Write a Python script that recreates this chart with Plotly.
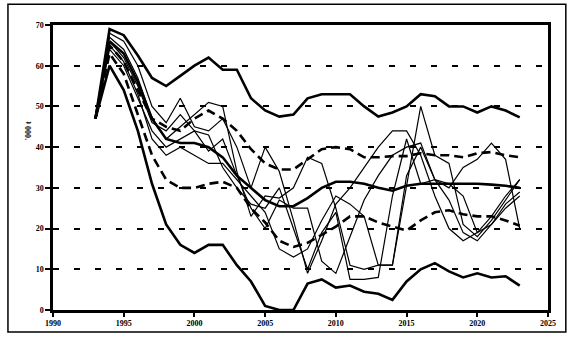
import plotly.graph_objects as go

years = list(range(1993, 2024))

top = [47, 69, 67.5, 62.5, 57, 55, 57.5, 60, 62, 59, 59, 52, 49, 47.5, 48, 52, 53, 53, 53, 50, 47.5, 48.5, 50, 53, 52.5, 50, 50, 48.5, 50, 49, 47.3]
bottom = [47, 60, 54, 44, 31, 21, 16, 14, 16, 16, 11, 7, 1, 0, 0, 6.5, 7.5, 5.5, 6, 4.5, 4, 2.5, 7, 10, 11.5, 9.5, 8, 9, 8, 8.3, 6]
mid_thick = [47, 66, 63, 56, 47, 42, 41, 41, 40, 37.5, 33, 30, 27, 25.5, 25.5, 27.5, 30, 31.5, 31.5, 31, 30, 29.3, 30.5, 31, 31, 31, 31, 31, 30.8, 30.5, 30]
dash_up = [47, 65, 61, 54, 47, 45, 44, 47, 49, 47, 44, 39.5, 36, 34.5, 34.5, 37, 39.5, 40, 39.5, 37.5, 37.5, 37.8, 37.8, 38.5, 38, 38, 37.5, 38.5, 38.8, 38, 37.5]
dash_low = [47, 63, 58, 48, 38, 32, 30, 30, 31, 31.5, 30, 25, 21.5, 17, 15.5, 16.5, 18.5, 20.5, 23, 23, 21.5, 20.5, 19.5, 22, 24, 24.5, 23.5, 23, 23, 22, 20.7]

thin_a = [47, 68, 66, 60, 50, 46, 52, 45, 44, 47, 40, 30, 40, 34, 22, 9, 17, 26, 30, 35, 40, 44, 44, 38, 28, 20, 17, 19, 23, 28, 32]
thin_b = [47, 67, 64, 57, 47, 42, 45, 48, 51, 50, 34, 23, 28, 27.5, 30, 37.5, 36, 25, 11, 10, 11, 11, 30, 50, 38, 36, 21, 18, 22, 27, 32]
thin_c = [47, 66, 62, 55, 46, 44, 48, 44, 39, 42, 33, 25, 20, 27, 25, 25, 12, 9, 18, 27, 33, 38, 40, 41, 32, 30, 35, 37, 41, 37, 20]
thin_d = [47, 65, 61, 53, 42, 38, 40, 38, 36, 36, 32, 28, 24, 15, 13, 15, 22, 28, 26, 23, 11, 11, 33, 40, 32, 27, 19, 17, 21, 26, 29]
thin_e = [47, 64, 60, 52, 44, 40, 42, 44, 43, 35, 30, 26, 25, 30, 20, 10, 19, 24, 7.5, 7.5, 8, 28, 42, 31, 32, 31, 28, 19, 21, 25, 28]

x_ticks = [1990, 1995, 2000, 2005, 2010, 2015, 2020, 2025]
y_ticks = [0, 10, 20, 30, 40, 50, 60, 70]
y_title = "'000 t"

series = [
    (thin_a, 1.2, "solid"), (thin_b, 1.2, "solid"), (thin_c, 1.2, "solid"),
    (thin_d, 1.2, "solid"), (thin_e, 1.2, "solid"),
    (dash_up, 2.6, "9px,5px"), (dash_low, 2.6, "9px,5px"),
    (mid_thick, 2.6, "solid"), (top, 2.6, "solid"), (bottom, 2.6, "solid"),
]

fig = go.Figure()
for vals, w, d in series:
    fig.add_trace(go.Scatter(x=years, y=vals, mode="lines",
                             line=dict(color="black", width=w, dash=d),
                             showlegend=False, hoverinfo="skip"))

tickfont = dict(family="Liberation Serif", size=8, color="black", weight="bold")

fig.update_layout(
    width=568, height=340,
    margin=dict(l=53, r=20, t=25, b=28),
    paper_bgcolor="white", plot_bgcolor="white",
    showlegend=False,
    xaxis=dict(range=[1990, 2025], tickvals=x_ticks, ticktext=[str(t) for t in x_ticks],
               showgrid=False, zeroline=False, showline=True, linecolor="black", linewidth=2.5,
               mirror=True, ticks="outside", ticklen=4, tickwidth=1.5, tickcolor="black",
               tickfont=tickfont),
    yaxis=dict(range=[0, 70], tickvals=y_ticks, showgrid=True, gridcolor="black",
               gridwidth=1.5, griddash="6px,15px", zeroline=False, showline=True,
               linecolor="black", linewidth=2.5, mirror=True, ticks="outside", ticklen=5,
               tickwidth=1.5, tickcolor="black", tickfont=tickfont),
    annotations=[dict(text=y_title, xref="paper", yref="paper", x=-0.062, y=0.63,
                      showarrow=False, textangle=-90,
                      font=dict(family="Liberation Serif", size=8, color="black", weight="bold"))],
    shapes=[dict(type="rect", xref="paper", yref="paper", x0=-0.091, x1=1.036,
                 y0=-0.077, y1=1.073, line=dict(color="black", width=1.5))],
)

fig.write_html("out.html")
